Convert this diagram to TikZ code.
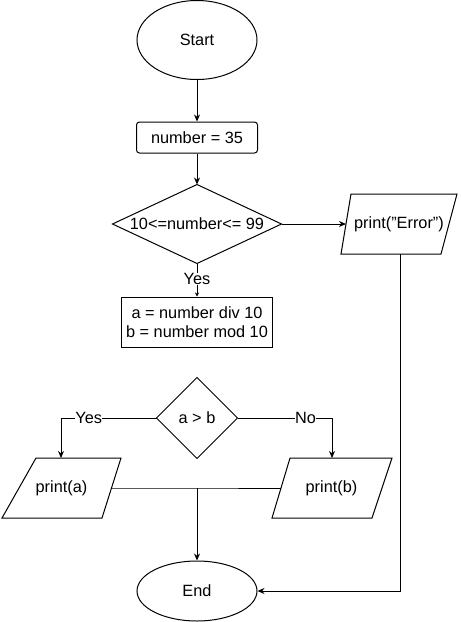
\documentclass[tikz,border=0pt]{standalone}
\usepackage{fontspec}
\setmainfont{Liberation Sans}
\usetikzlibrary{shapes.geometric,arrows.meta,calc}
\begin{document}
\begin{tikzpicture}[x=1pt,y=-1pt,
  every node/.style={font=\fontsize{16.3}{19}\selectfont},
  line width=1pt,
  arr/.style={-{Stealth[length=7pt,width=6pt]}},
  smallarr/.style={-{Stealth[length=4pt,width=4pt]}},
  term/.style={draw,ellipse,minimum width=120pt,inner sep=0pt},
  proc/.style={draw,rectangle,inner sep=0pt},
  box/.style={rectangle,inner sep=0pt},
  lbl/.style={fill=white,inner sep=0.5pt}]
\useasboundingbox (0,0) rectangle (461,622);
\node[term,minimum height=79pt] (start) at (197,40) {Start};
\node[proc,rounded corners=3pt,minimum width=121pt,minimum height=31pt] (num) at (197,137.5) {number = 35};
\node[box,minimum width=168pt,minimum height=78pt] (cond) at (197,224) {10<=number<= 99};
\draw (cond.north) -- (cond.east) -- (cond.south) -- (cond.west) -- cycle;
\node[proc,minimum width=151pt,minimum height=50pt,align=center] (ab) at (197,322) {a = number div 10\\b = number mod 10};
\node[box,minimum width=80pt,minimum height=80pt] (cmp) at (197,418) {a > b};
\draw (cmp.north) -- (cmp.east) -- (cmp.south) -- (cmp.west) -- cycle;
\node[term,minimum height=60pt] (end) at (197,591) {End};
% parallelograms
\draw (351,194) -- (457,194) -- (441,254) -- (341,254) -- cycle;
\node[box,minimum width=100pt,minimum height=60pt] (err) at (399,224) {print(\symbol{34}Error\symbol{34})};
\draw (36,458) -- (121,458) -- (102,518) -- (2,518) -- cycle;
\node[box,minimum width=100pt,minimum height=60pt] (pa) at (61.5,488) {print(a)};
\draw (290,458) -- (392,458) -- (372,518) -- (272,518) -- cycle;
\node[box,minimum width=100pt,minimum height=60pt] (pb) at (331.5,488) {print(b)};
\coordinate (join) at (197,488);
% connectors
\draw[arr] (start) -- (num);
\draw[arr] (num) -- (cond.north);
\draw[arr] (cond.east) -- (346,224);
\draw[smallarr] (cond.south) -- node[lbl,pos=0.47]{Yes} (ab.north);
\draw[arr] (cmp.west) -- node[lbl,pos=0.71]{Yes} (61,418) -- (61,458);
\draw[arr] (cmp.east) -- node[lbl,pos=0.72]{No} (332,418) -- (332,458);
\draw (112,488) -- (join) -- (281,488);
\draw[arr] (join) -- (end.north);
\draw[arr] (400,254) -- (400,591) -- (end.east);
\end{tikzpicture}
\end{document}
